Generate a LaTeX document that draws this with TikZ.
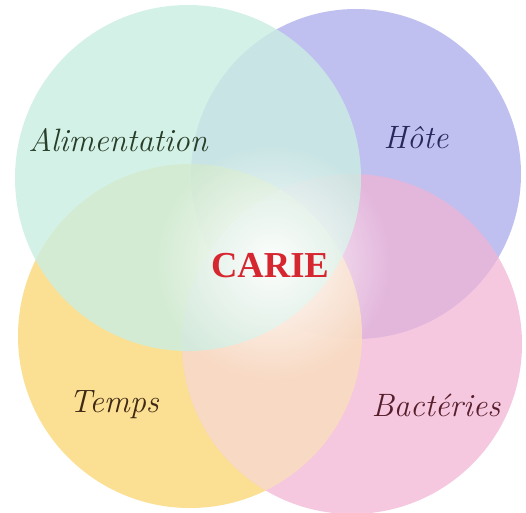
\documentclass[tikz,border=0pt]{standalone}
\usepackage{fontspec}
\newfontfamily\boldserif{Liberation Serif}
\usetikzlibrary{fadings}

\definecolor{mint}{RGB}{202,238,226}
\definecolor{lavender}{RGB}{172,172,236}
\definecolor{butter}{RGB}{250,214,112}
\definecolor{rosewash}{RGB}{242,178,212}
\definecolor{cariered}{RGB}{214,38,48}

\tikzfading[name=glow, inner color=transparent!0, outer color=transparent!100]

\begin{document}
\begin{tikzpicture}[x=0.25mm, y=-0.25mm,
    wash/.style={fill opacity=0.75},
    word/.style={font=\itshape\fontsize{23}{28}\selectfont}]
    \useasboundingbox (0,0) rectangle (526,512);
    \fill[white] (0,0) rectangle (526,512);

    % 1. Circle centres
    \coordinate (G) at (188,178); % Alimentation (green)
    \coordinate (H) at (356,174); % Hote (blue)
    \coordinate (Y) at (190,336); % Temps (yellow)
    \coordinate (P) at (352,344); % Bacteries (pink)

    % 2. Washes
    \fill[lavender, wash] (H) circle (165);
    \fill[butter, wash] (Y) circle (172);
    \fill[rosewash, wash, fill opacity=0.7] (P) circle (170);
    % yellow/pink overlap stays pale
    \begin{scope}
        \clip (Y) circle (172);
        \fill[butter!40!white, opacity=0.55] (P) circle (170);
    \end{scope}
    \fill[mint, wash, fill opacity=0.8] (G) circle (173);

    % 3. Light centre
    \fill[white, path fading=glow, opacity=0.95] (272,262) circle (120);

    % 4. Labels
    \node[word, text={rgb,255:red,40;green,62;blue,40}] (alim) at (118,140) {Alimentation};
    \node[word, text={rgb,255:red,40;green,40;blue,92}] (hote) at (416,138) {Hôte};
    \node[word, text={rgb,255:red,62;green,40;blue,22}] (temps) at (114,405) {Temps};
    \node[word, text={rgb,255:red,86;green,30;blue,42}] (bact) at (436,405) {Bactéries};
    \node[font=\boldserif\bfseries\fontsize{26}{30}\selectfont, text=cariered] (carie) at (270,266) {CARIE};

\end{tikzpicture}
\end{document}
